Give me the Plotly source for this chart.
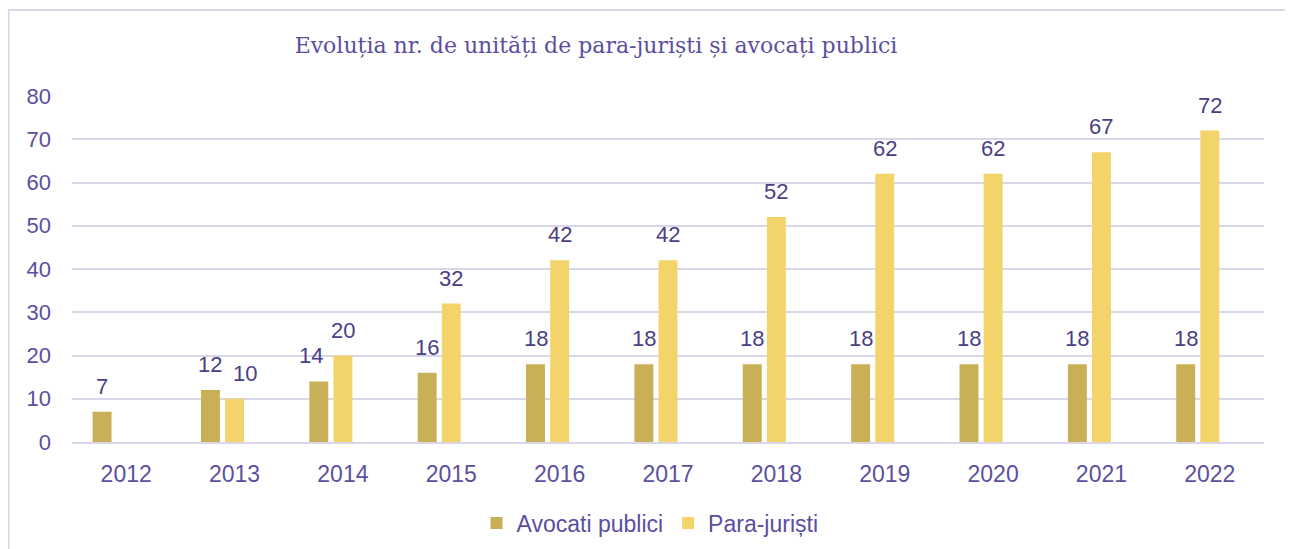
import plotly.graph_objects as go

years = ["2012", "2013", "2014", "2015", "2016", "2017", "2018", "2019", "2020", "2021", "2022"]
avocati = [7, 12, 14, 16, 18, 18, 18, 18, 18, 18, 18]
parajuristi = [None, 10, 20, 32, 42, 42, 52, 62, 62, 67, 72]
series_names = ["Avocati publici", "Para-juriști"]
title_text = "Evoluția nr. de unități de para-juriști și avocați publici"

C_AV = "#C9B057"
C_PJ = "#F3D46B"
TXT = "#5B4FA0"
LBL = "#4A3F85"
GRID = "#D9D6EA"
SANS = "Liberation Sans, Arial, sans-serif"

# page body has an 8px margin; size the figure so it lands where the reference is
OFF = 8
W = 1293 - OFF
H = 549 - OFF
ML, MR, MT, MB = 72 - OFF, 29, 96 - OFF, 107
PW = W - ML - MR
PH = H - MT - MB
BW = 0.175

fig = go.Figure()
fig.add_trace(go.Bar(x=years, y=avocati, name=series_names[0], marker=dict(color=C_AV, line=dict(width=0)),
                     width=BW, offset=-0.31))
fig.add_trace(go.Bar(x=years, y=parajuristi, name=series_names[1], marker=dict(color=C_PJ, line=dict(width=0)),
                     width=BW, offset=-0.0875))

cat_px = PW / len(years)
label_nudge = {("av", 2): -8, ("pj", 1): 10}
for i, v in enumerate(avocati):
    if v is not None:
        fig.add_annotation(x=i, y=v, xref="x", yref="y", text=str(v), showarrow=False, yanchor="bottom",
                           xshift=-0.2225 * cat_px + label_nudge.get(("av", i), 0), yshift=11,
                           font=dict(family=SANS, size=22, color=LBL))
for i, v in enumerate(parajuristi):
    if v is not None:
        fig.add_annotation(x=i, y=v, xref="x", yref="y", text=str(v), showarrow=False, yanchor="bottom",
                           xshift=label_nudge.get(("pj", i), 0), yshift=11,
                           font=dict(family=SANS, size=22, color=LBL))

# outer frame
x0 = (0.5 - ML) / PW
x1 = (1284 - ML) / PW
y1 = (H - MB - 2) / PH
y0 = (H - MB - 560) / PH
fig.add_shape(type="rect", xref="paper", yref="paper", x0=x0, x1=x1, y0=y0, y1=y1,
              line=dict(color=GRID, width=2), fillcolor="rgba(0,0,0,0)", layer="below")

fig.update_layout(
    width=W, height=H,
    margin=dict(l=ML, r=MR, t=MT, b=MB, autoexpand=False),
    paper_bgcolor="white", plot_bgcolor="white",
    barmode="group",
    title=dict(text=title_text, x=588 / W, xanchor="center", y=1 - 37 / H, yanchor="middle",
               font=dict(family="DejaVu Serif, serif", size=22, color=TXT)),
    legend=dict(orientation="h", xref="container", yref="container", x=642 / W, xanchor="center",
                y=1 - 515 / H, yanchor="middle",
                font=dict(family=SANS, size=23, color=TXT),
                itemwidth=30, traceorder="normal"),
    xaxis=dict(type="category", showgrid=False, showline=True, linecolor=GRID, linewidth=2,
               ticks="", tickfont=dict(family=SANS, size=23, color=TXT),
               ticklabelstandoff=10, range=[-0.5, len(years) - 0.5]),
    yaxis=dict(range=[0, 80], dtick=10, showgrid=True, gridcolor=GRID, gridwidth=2, zeroline=False,
               showline=False, ticks="", tickfont=dict(family=SANS, size=22, color=TXT),
               ticklabelstandoff=20),
)

fig.write_html("out.html")
